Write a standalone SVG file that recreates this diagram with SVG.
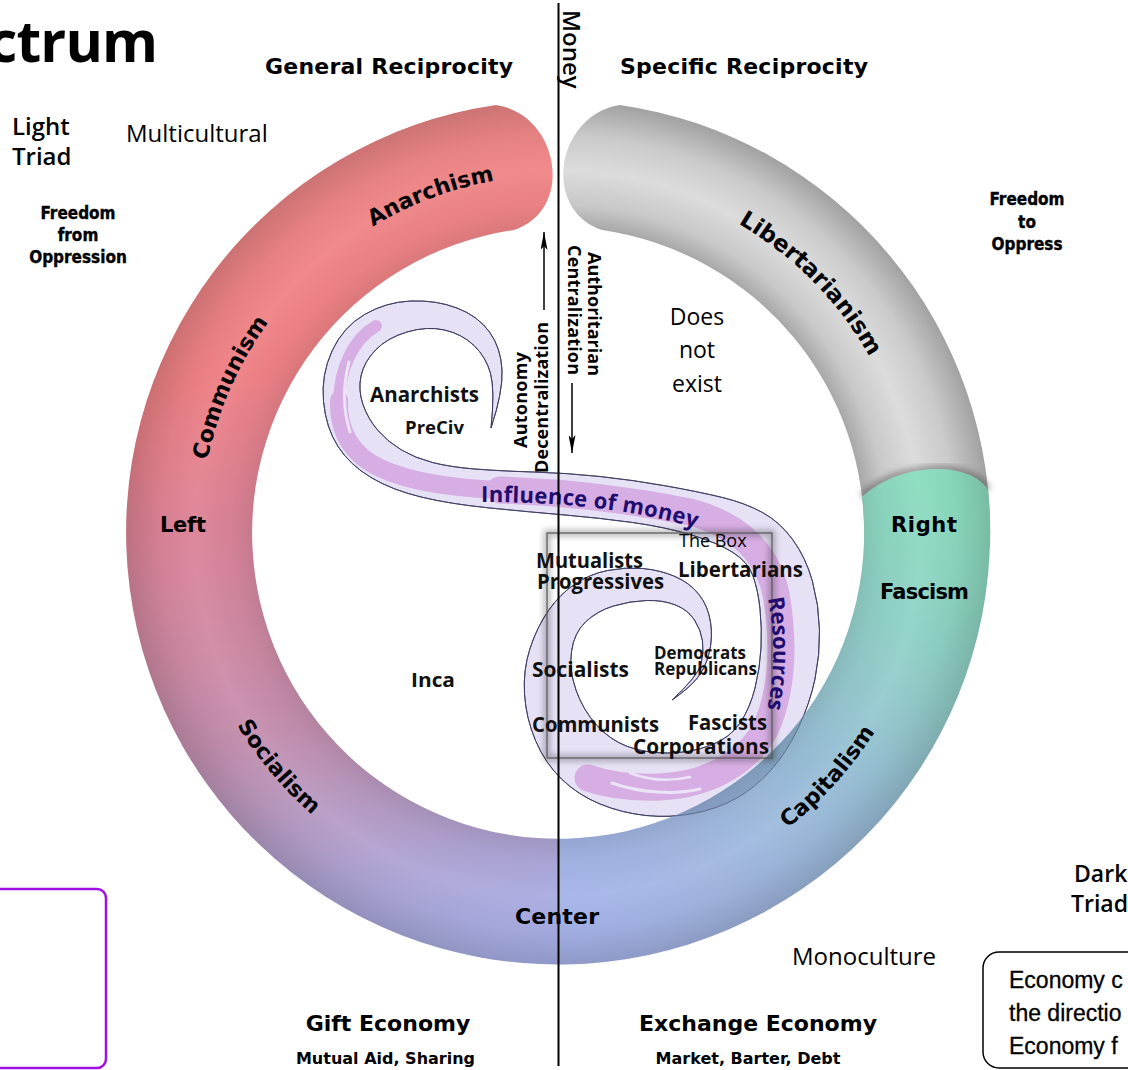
<svg xmlns="http://www.w3.org/2000/svg" xmlns:xlink="http://www.w3.org/1999/xlink" width="1128" height="1070" viewBox="0 0 1128 1070">
<style>
.dv{font-family:'DejaVu Sans',sans-serif;font-weight:bold;fill:#000}
.os{font-family:'Open Sans',sans-serif;fill:#000}
.geo{font-family:'Open Sans',sans-serif;font-weight:bold;fill:#111}
.cond{font-family:'DejaVu Sans Condensed','DejaVu Sans',sans-serif;font-weight:bold;font-stretch:condensed;font-size:17px;text-anchor:middle;fill:#000;stroke:#000;stroke-width:0.35}
.hand{font-family:'Liberation Sans',sans-serif;font-size:23px;fill:#000;stroke:#000;stroke-width:0.3}
.ink{font-family:'Open Sans',sans-serif;font-weight:bold;font-size:22px;fill:#1f0c6e}
.band{fill:#e7e1f5;stroke:#3c3c62;stroke-width:0.9}
.stripe{fill:none;stroke:#d7aee3;stroke-linecap:round}
.flame{fill:none;stroke:#ebe4f7;stroke-linecap:round}
.arrow{stroke:#000;stroke-width:1.5;fill:none}
</style>
<defs>
<path id="spiral" d="M 491,428 Q 503,392 502,370 Q 501,348 489.5,332 Q 478,316 457,308 Q 436,300 411,301 Q 386,302 364.5,314.5 Q 343,327 332,351 Q 321,375 323.5,401.5 Q 326,428 338,446.5 Q 350,465 371,477.5 Q 392,490 421,497 Q 450,504 490,508 Q 530,512 565,515 Q 600,518 632.5,522.5 Q 665,527 691.5,535 Q 718,543 733,552.5 Q 748,562 753,576 Q 758,590 760,609 Q 762,628 761,648 Q 760,668 755,688 Q 750,708 740,723 Q 730,738 710,745.5 Q 690,753 667.5,753 Q 645,753 627.5,746.5 Q 610,740 596.5,725 Q 583,710 576,690 Q 569,670 571.5,651.5 Q 574,633 585.5,622 Q 597,611 613.5,606 Q 630,601 646.5,600.5 Q 663,600 675.5,605 Q 688,610 694.5,620 Q 701,630 702.5,641 Q 704,652 701,664 Q 698,676 672,700 Q 688,689 696.5,679 Q 705,669 709,653.5 Q 713,638 710.5,622 Q 708,606 699,594.5 Q 690,583 675,576.5 Q 660,570 642.5,568.5 Q 625,567 607.5,570.5 Q 590,574 575,584 Q 560,594 548.5,610.5 Q 537,627 530,648.5 Q 523,670 524.5,694 Q 526,718 535.5,740.5 Q 545,763 561.5,779 Q 578,795 600,804 Q 622,813 646,815.5 Q 670,818 693.5,813.5 Q 717,809 736,798.5 Q 755,788 771,770 Q 787,752 798.5,727.5 Q 810,703 815,679 Q 820,655 819.5,630 Q 819,605 812.5,581.5 Q 806,558 793,540 Q 780,522 762.5,512.5 Q 745,503 722.5,497.5 Q 700,492 666.5,486 Q 633,480 600,476.5 Q 567,473 533.5,472 Q 500,471 475,469 Q 450,467 432.5,462.5 Q 415,458 401.5,450 Q 388,442 378,430.5 Q 368,419 363,404.5 Q 358,390 361,376 Q 364,362 375.5,350 Q 387,338 407,332 Q 427,326 444.5,330 Q 462,334 474,345.5 Q 486,357 490.5,373.5 Q 495,390 491,428 Z"/>
<clipPath id="bandClip"><use xlink:href="#spiral" href="#spiral"/></clipPath>
<path id="mainRing" d="M 496,105 A 432 432 0 1 0 988,490 C 972,462 902,460 862,497 A 306 306 0 1 1 514,230 C 575,210 560,115 496,105 Z"/>
<clipPath id="ringClip"><use xlink:href="#mainRing" href="#mainRing"/></clipPath>
<linearGradient id="gl" gradientUnits="userSpaceOnUse" x1="450" y1="100" x2="650" y2="960">
<stop offset="0" stop-color="#f08888"/>
<stop offset="0.25" stop-color="#f08286"/>
<stop offset="0.40" stop-color="#de8498"/>
<stop offset="0.65" stop-color="#c690b0"/>
<stop offset="0.77" stop-color="#b69ec8"/>
<stop offset="0.88" stop-color="#acaade"/>
<stop offset="1" stop-color="#a8b4ec"/>
</linearGradient>
<linearGradient id="gr" gradientUnits="userSpaceOnUse" x1="560" y1="960" x2="940" y2="490">
<stop offset="0" stop-color="#a8b4ec"/>
<stop offset="0.29" stop-color="#a2b8e2"/>
<stop offset="0.53" stop-color="#9ac0d8"/>
<stop offset="0.77" stop-color="#92d2c8"/>
<stop offset="1" stop-color="#8cdec0"/>
</linearGradient>
<radialGradient id="shade" gradientUnits="userSpaceOnUse" cx="558" cy="533" r="432">
<stop offset="0.70" stop-color="#000" stop-opacity="0.10"/>
<stop offset="0.76" stop-color="#000" stop-opacity="0.03"/>
<stop offset="0.84" stop-color="#fff" stop-opacity="0.04"/>
<stop offset="0.92" stop-color="#000" stop-opacity="0.04"/>
<stop offset="1" stop-color="#000" stop-opacity="0.15"/>
</radialGradient>
<radialGradient id="grayG" gradientUnits="userSpaceOnUse" cx="558" cy="533" r="432">
<stop offset="0.70" stop-color="#a2a2a2"/>
<stop offset="0.76" stop-color="#c8c8c8"/>
<stop offset="0.84" stop-color="#dcdcdc"/>
<stop offset="0.92" stop-color="#cacaca"/>
<stop offset="1" stop-color="#a2a2a2"/>
</radialGradient>
<path id="cwText" d="M 200,533 A 358 358 0 1 1 916,533 A 358 358 0 1 1 200,533"/>
<path id="ccwText" d="M 184,533 A 374 374 0 1 0 932,533 A 374 374 0 1 0 184,533"/>
<path id="inflPath" d="M 481,502 Q 620,502 708,532"/>
<path id="resPath" d="M 768,598 Q 779,656 766,716"/>
<filter id="blur3" x="-20%" y="-20%" width="140%" height="140%"><feGaussianBlur stdDeviation="3"/></filter>
<marker id="ah" viewBox="0 0 18 7" refX="18" refY="3.5" markerWidth="18" markerHeight="7" markerUnits="userSpaceOnUse" orient="auto"><path d="M0,0 L18,3.5 L0,7 L4,3.5 Z" fill="#000"/></marker>
</defs>

<rect x="0" y="0" width="1128" height="1070" fill="#fff"/>

<g id="spiral-node">
<use xlink:href="#spiral" href="#spiral" class="band"/>
<g clip-path="url(#bandClip)">
<path class="stripe" stroke-width="12" d="M 376,326 C 352,340 340,370 339,400"/>
<path class="stripe" stroke-width="18" d="M 339,400 C 338,432 352,455 380,468 C 410,482 450,488 500,490"/>
<path class="stripe" stroke-width="27" d="M 500,490 C 560,492 620,498 690,512 C 740,525 770,555 777,600 C 784,645 783,690 765,730 C 745,765 705,785 660,787 C 630,788 605,784 588,778"/>
<path class="flame" stroke-width="3" d="M 349,362 C 343,385 343,410 350,432"/>
<path class="flame" stroke-width="3" d="M 700,789 C 675,795 640,793 612,783"/>
<path class="flame" stroke-width="2.5" d="M 690,777 C 668,782 648,780 630,773"/>
</g>
<use xlink:href="#spiral" href="#spiral" fill="none" stroke="#3c3c62" stroke-width="0.9"/>
</g>

<g id="ring-gray">
<path d="M 620,105 A 432 432 0 0 1 990,548 L 864,544 A 306 306 0 0 0 602,230 C 541,210 556,115 620,105 Z" fill="url(#grayG)"/>
<path d="M 988,490 C 972,462 902,460 862,497" fill="none" stroke="#000" stroke-opacity="0.3" stroke-width="8" filter="url(#blur3)"/>
</g>

<g id="ring-main">
<g clip-path="url(#ringClip)">
<rect x="100" y="90" width="458.5" height="890" fill="url(#gl)"/>
<rect x="558" y="90" width="440" height="890" fill="url(#gr)"/>
<rect x="100" y="90" width="898" height="890" fill="url(#shade)"/>
<use xlink:href="#spiral" href="#spiral" fill="#102050" fill-opacity="0.12" stroke="#2a3050" stroke-width="0.8" stroke-opacity="0.6"/>
</g>
</g>

<g id="ring-labels" class="dv" font-size="22">
<text><textPath xlink:href="#cwText" href="#cwText" startOffset="19.25%" text-anchor="middle">Anarchism</textPath></text>
<text font-size="23"><textPath xlink:href="#cwText" href="#cwText" startOffset="37.6%" text-anchor="middle">Libertarianism</textPath></text>
<text><textPath xlink:href="#cwText" href="#cwText" startOffset="6.64%" text-anchor="middle">Communism</textPath></text>
<text><textPath xlink:href="#ccwText" href="#ccwText" startOffset="11.08%" text-anchor="middle">Socialism</textPath></text>
<text><textPath xlink:href="#ccwText" href="#ccwText" startOffset="38.3%" text-anchor="middle">Capitalism</textPath></text>
<text x="160" y="532" font-size="21" textLength="46">Left</text>
<text x="891" y="532" font-size="21" textLength="66">Right</text>
<text x="880" y="599" font-size="21" textLength="89">Fascism</text>
<text x="515" y="924" font-size="22" textLength="84">Center</text>
</g>

<g id="the-box">
<rect x="547" y="533" width="225" height="225" fill="none" stroke="#000" stroke-opacity="0.3" stroke-width="6" filter="url(#blur3)"/>
<rect x="547" y="533" width="225" height="225" fill="none" stroke="#555" stroke-width="1.2"/>
<text class="os" x="679" y="547" font-size="18">The Box</text>
</g>

<g id="spiral-labels">
<text class="ink" letter-spacing="0.3"><textPath xlink:href="#inflPath" href="#inflPath">Influence of money</textPath></text>
<text class="ink"><textPath xlink:href="#resPath" href="#resPath">Resources</textPath></text>
</g>

<g id="groups" class="geo">
<text x="370" y="402" font-size="21" textLength="109" lengthAdjust="spacingAndGlyphs">Anarchists</text>
<text x="405" y="434" font-size="17" textLength="59" lengthAdjust="spacingAndGlyphs">PreCiv</text>
<text x="411" y="687" font-size="20" textLength="44" lengthAdjust="spacingAndGlyphs">Inca</text>
<text x="536" y="568" font-size="21" textLength="107" lengthAdjust="spacingAndGlyphs">Mutualists</text>
<text x="537" y="589" font-size="21" textLength="127" lengthAdjust="spacingAndGlyphs">Progressives</text>
<text x="678" y="577" font-size="21" textLength="125" lengthAdjust="spacingAndGlyphs">Libertarians</text>
<text x="654" y="659" font-size="17" textLength="92" lengthAdjust="spacingAndGlyphs">Democrats</text>
<text x="654" y="675" font-size="17" textLength="103" lengthAdjust="spacingAndGlyphs">Republicans</text>
<text x="532" y="677" font-size="21" textLength="97" lengthAdjust="spacingAndGlyphs">Socialists</text>
<text x="532" y="732" font-size="21" textLength="127" lengthAdjust="spacingAndGlyphs">Communists</text>
<text x="688" y="730" font-size="21" textLength="79" lengthAdjust="spacingAndGlyphs">Fascists</text>
<text x="633" y="754" font-size="21" textLength="136" lengthAdjust="spacingAndGlyphs">Corporations</text>
</g>

<g id="axis">
<line x1="558.5" y1="3" x2="558.5" y2="1066" stroke="#000" stroke-width="2"/>
<text class="os" font-size="24" font-weight="600" transform="translate(563,10) rotate(90)">Money</text>
</g>

<g id="connectors">
<line class="arrow" x1="544" y1="310" x2="544" y2="232" marker-end="url(#ah)"/>
<line class="arrow" x1="572" y1="383" x2="572" y2="453" marker-end="url(#ah)"/>
</g>

<g id="direction-labels" class="os" font-weight="700" font-size="18">
<text transform="translate(588,252) rotate(90)" textLength="124">Authoritarian</text>
<text transform="translate(568,245) rotate(90)" textLength="130">Centralization</text>
<text transform="translate(527,448) rotate(-90)" textLength="96">Autonomy</text>
<text transform="translate(548,473) rotate(-90)" textLength="151">Decentralization</text>
</g>

<g id="headers" class="dv">
<text x="-12" y="62" class="os" font-size="57" font-weight="700" textLength="170">ctrum</text>
<text x="265" y="74" font-size="22" textLength="248">General Reciprocity</text>
<text x="620" y="74" font-size="22" textLength="248">Specific Reciprocity</text>
<text x="388" y="1031" font-size="22" text-anchor="middle">Gift Economy</text>
<text x="385.5" y="1064" font-size="16" text-anchor="middle">Mutual Aid, Sharing</text>
<text x="758" y="1031" font-size="22" text-anchor="middle">Exchange Economy</text>
<text x="748" y="1064" font-size="16" text-anchor="middle">Market, Barter, Debt</text>
</g>

<g id="side-notes">
<text class="os" x="12" y="135" font-size="24" font-weight="600">Light</text>
<text class="os" x="12" y="165" font-size="24" font-weight="600">Triad</text>
<text class="os" x="126" y="142" font-size="24">Multicultural</text>
<text class="cond" x="78" y="219">Freedom</text>
<text class="cond" x="78" y="241">from</text>
<text class="cond" x="78" y="263">Oppression</text>
<text class="cond" x="1027" y="205">Freedom</text>
<text class="cond" x="1027" y="228">to</text>
<text class="cond" x="1027" y="250">Oppress</text>
<text class="os" x="697" y="325" font-size="23" text-anchor="middle">Does</text>
<text class="os" x="697" y="358" font-size="23" text-anchor="middle">not</text>
<text class="os" x="697" y="392" font-size="23" text-anchor="middle">exist</text>
<text class="os" x="792" y="965" font-size="24">Monoculture</text>
<text class="os" x="1074" y="882" font-size="23" font-weight="600">Dark</text>
<text class="os" x="1071" y="912" font-size="23" font-weight="600">Triad</text>
</g>

<g id="legend-left">
<rect x="-20" y="889" width="126" height="179" rx="9" fill="none" stroke="#a010e0" stroke-width="2.5"/>
</g>

<g id="legend-right">
<rect x="983" y="952" width="170" height="116" rx="16" fill="none" stroke="#000" stroke-width="1.5"/>
<text class="hand" x="1009" y="988">Economy c</text>
<text class="hand" x="1009" y="1021">the directio</text>
<text class="hand" x="1009" y="1054">Economy f</text>
</g>
</svg>
